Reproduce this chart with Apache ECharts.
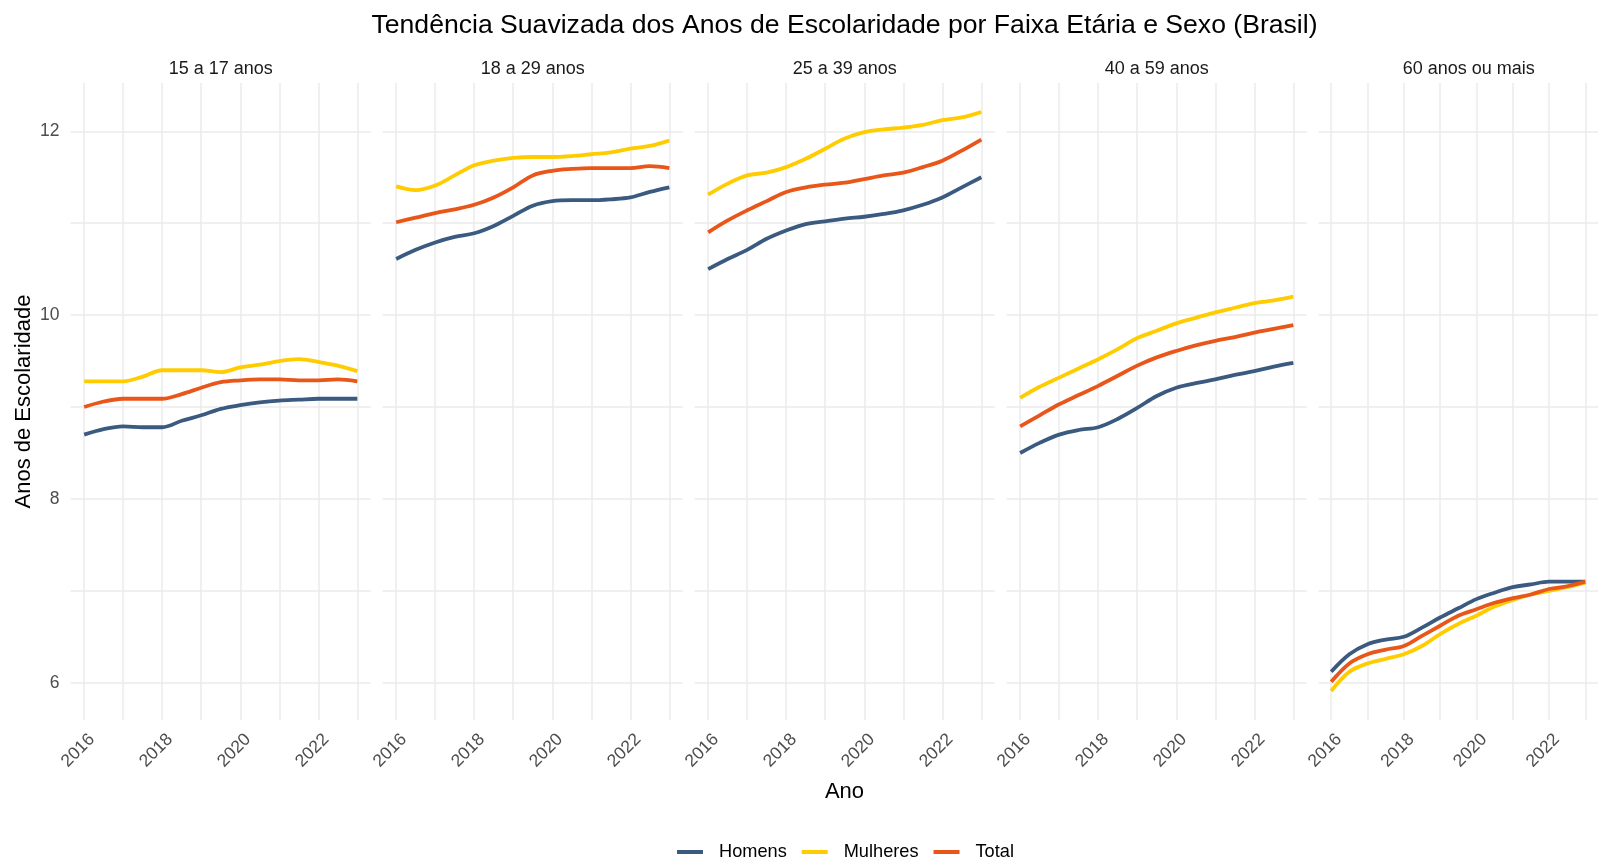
<!DOCTYPE html>
<html lang="pt-BR">
<head>
<meta charset="utf-8">
<title>Tendência Suavizada dos Anos de Escolaridade</title>
<script src="https://cdn.jsdelivr.net/npm/echarts@6/dist/echarts.min.js"></script>
<style>
  html, body { margin: 0; padding: 0; background: #fff; }
  #chart { width: 1598px; height: 861px; }
</style>
</head>
<body>
<div id="chart"></div>
<script>
// anos (curva suavizada lida a cada meio ano)
const anos = [2016, 2016.5, 2017, 2017.5, 2018, 2018.5, 2019, 2019.5, 2020, 2020.5, 2021, 2021.5, 2022, 2022.5, 2023];

const faixas = ['15 a 17 anos', '18 a 29 anos', '25 a 39 anos', '40 a 59 anos', '60 anos ou mais'];
const sexos = ['Homens', 'Mulheres', 'Total'];

// 15 a 17 anos
const homens15 = [8.70, 8.76, 8.79, 8.78, 8.78, 8.85, 8.91, 8.98, 9.02, 9.05, 9.07, 9.08, 9.09, 9.09, 9.09];
const mulheres15 = [9.28, 9.28, 9.28, 9.33, 9.40, 9.40, 9.40, 9.38, 9.43, 9.46, 9.50, 9.52, 9.49, 9.45, 9.39];
const total15 = [9.00, 9.06, 9.09, 9.09, 9.09, 9.14, 9.21, 9.27, 9.29, 9.30, 9.30, 9.29, 9.29, 9.30, 9.28];

// 18 a 29 anos
const homens18 = [10.61, 10.71, 10.79, 10.85, 10.89, 10.97, 11.08, 11.19, 11.24, 11.25, 11.25, 11.26, 11.28, 11.34, 11.39];
const mulheres18 = [11.40, 11.36, 11.41, 11.52, 11.63, 11.68, 11.71, 11.72, 11.72, 11.73, 11.75, 11.77, 11.81, 11.84, 11.90];
const total18 = [11.01, 11.06, 11.11, 11.15, 11.20, 11.28, 11.39, 11.52, 11.57, 11.59, 11.60, 11.60, 11.60, 11.62, 11.60];

// 25 a 39 anos
const homens25 = [10.50, 10.61, 10.71, 10.83, 10.92, 10.99, 11.02, 11.05, 11.07, 11.10, 11.14, 11.20, 11.28, 11.39, 11.50];
const mulheres25 = [11.31, 11.43, 11.52, 11.55, 11.61, 11.70, 11.81, 11.92, 11.99, 12.02, 12.04, 12.07, 12.12, 12.15, 12.21];
const total25 = [10.90, 11.03, 11.14, 11.24, 11.34, 11.39, 11.42, 11.44, 11.48, 11.52, 11.55, 11.61, 11.68, 11.79, 11.91];

// 40 a 59 anos
const homens40 = [8.50, 8.61, 8.70, 8.75, 8.78, 8.87, 8.99, 9.12, 9.21, 9.26, 9.30, 9.35, 9.39, 9.44, 9.48];
const mulheres40 = [9.10, 9.22, 9.32, 9.42, 9.52, 9.63, 9.75, 9.83, 9.91, 9.97, 10.03, 10.08, 10.13, 10.16, 10.20];
const total40 = [8.79, 8.91, 9.03, 9.13, 9.23, 9.34, 9.45, 9.54, 9.61, 9.67, 9.72, 9.76, 9.81, 9.85, 9.89];

// 60 anos ou mais
const homens60 = [6.12, 6.31, 6.42, 6.47, 6.50, 6.60, 6.71, 6.81, 6.91, 6.98, 7.04, 7.07, 7.10, 7.10, 7.10];
const mulheres60 = [5.91, 6.12, 6.21, 6.26, 6.31, 6.40, 6.53, 6.64, 6.73, 6.83, 6.90, 6.96, 7.00, 7.04, 7.09];
const total60 = [6.01, 6.21, 6.31, 6.36, 6.40, 6.51, 6.62, 6.73, 6.80, 6.87, 6.92, 6.96, 7.02, 7.05, 7.10];

// marcas dos eixos
const ticksY = [6, 8, 10, 12];
const gradeY = [6, 7, 8, 9, 10, 11, 12];
const ticksX = [2016, 2018, 2020, 2022];
const gradeX = [2016, 2017, 2018, 2019, 2020, 2021, 2022, 2023];

const dados = [
  [homens15, mulheres15, total15],
  [homens18, mulheres18, total18],
  [homens25, mulheres25, total25],
  [homens40, mulheres40, total40],
  [homens60, mulheres60, total60]
];

const cores = { Homens: '#3A5A80', Mulheres: '#FFCC00', Total: '#E8561A' };
const fonte = '"Liberation Sans", Arial, sans-serif';

// layout dos painéis (o último fica cortado na borda direita, como no original)
const painelLeft = 70.5;
const painelPasso = 312;
const painelLargura = 300.5;
const painelTop = 83;
const painelAltura = 637;

const grids = [];
const xAxes = [];
const yAxes = [];
const series = [];
const graficos = [];

faixas.forEach((faixa, i) => {
  const left = painelLeft + i * painelPasso;
  grids.push({ left: left, top: painelTop, width: painelLargura, height: painelAltura, containLabel: false });

  xAxes.push({
    type: 'value',
    gridIndex: i,
    min: 2015.65,
    max: 2023.35,
    axisLine: { show: false },
    axisTick: { show: false, customValues: gradeX },
    splitLine: { show: true, lineStyle: { color: '#EBEBEB', width: 1.5 } },
    axisLabel: {
      customValues: ticksX,
      rotate: 45,
      margin: 9,
      align: 'right',
      verticalAlign: 'top',
      padding: [2, 0, 0, 0],
      color: '#4D4D4D',
      fontSize: 17.5,
      fontFamily: fonte,
      formatter: v => String(v)
    }
  });

  yAxes.push({
    type: 'value',
    gridIndex: i,
    min: 5.595,
    max: 12.525,
    axisLine: { show: false },
    axisTick: { show: false, customValues: gradeY },
    splitLine: { show: true, lineStyle: { color: '#EBEBEB', width: 1.5 } },
    axisLabel: {
      show: i === 0,
      customValues: ticksY,
      margin: 11,
      color: '#4D4D4D',
      fontSize: 17.5,
      fontFamily: fonte
    },
    name: i === 0 ? 'Anos de Escolaridade' : '',
    nameLocation: 'middle',
    nameRotate: 90,
    nameGap: 36,
    nameTextStyle: { color: '#000', fontSize: 22, fontFamily: fonte }
  });

  sexos.forEach((sexo, k) => {
    series.push({
      name: sexo,
      type: 'line',
      xAxisIndex: i,
      yAxisIndex: i,
      data: anos.map((a, j) => [a, dados[i][k][j]]),
      smooth: 0.35,
      showSymbol: false,
      lineStyle: { color: cores[sexo], width: 3.8 },
      itemStyle: { color: cores[sexo] },
      z: 2 + k
    });
  });

  // título do painel (strip)
  graficos.push({
    type: 'text',
    x: left + painelLargura / 2,
    y: 69,
    style: {
      text: faixa,
      fill: '#1A1A1A',
      font: '18px ' + fonte,
      textAlign: 'center',
      textVerticalAlign: 'middle'
    }
  });
});

// título do eixo x
graficos.push({
  type: 'text',
  x: 844.5,
  y: 792,
  style: { text: 'Ano', fill: '#000', font: '22px ' + fonte, textAlign: 'center', textVerticalAlign: 'middle' }
});

const chart = echarts.init(document.getElementById('chart'));
chart.setOption({
  animation: false,
  backgroundColor: '#fff',
  title: {
    text: 'Tendência Suavizada dos Anos de Escolaridade por Faixa Etária e Sexo (Brasil)',
    left: 839.5,
    top: 7,
    textAlign: 'center',
    textStyle: { color: '#000', fontSize: 26.6, fontWeight: 'normal', fontFamily: fonte }
  },
  legend: {
    data: sexos,
    left: 672,
    top: 838,
    icon: 'rect',
    itemWidth: 26,
    itemHeight: 4,
    itemGap: 15,
    textStyle: { color: '#000', fontSize: 18.2, fontFamily: fonte, padding: [0, 0, 0, 11] }
  },
  grid: grids,
  xAxis: xAxes,
  yAxis: yAxes,
  series: series,
  graphic: graficos
});
</script>
</body>
</html>
